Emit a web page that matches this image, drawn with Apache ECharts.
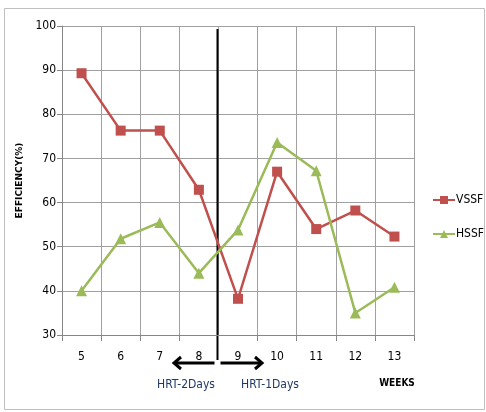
<!DOCTYPE html>
<html><head><meta charset="utf-8">
<script src="https://cdn.jsdelivr.net/npm/echarts@6/dist/echarts.min.js"></script>
<style>html,body{margin:0;padding:0;background:#fff}#c{width:486px;height:412px}</style>
</head><body><div id="c"></div>
<script>
const weeks = ['5','6','7','8','9','10','11','12','13'];
const vssf = [89.3, 76.3, 76.3, 62.9, 38.2, 67.0, 54.0, 58.2, 52.3];
const hssf = [40.0, 51.8, 55.5, 44.0, 53.8, 73.6, 67.2, 35.0, 40.8];
const yTicks = [30, 40, 50, 60, 70, 80, 90, 100];

const F = "'Liberation Sans Narrow','DejaVu Sans Condensed',sans-serif";
const chart = echarts.init(document.getElementById('c'));
const grid = {left: 62, top: 26, width: 352, height: 309};
chart.setOption({
  animation: false,
  grid: grid,
  legend: {
    orient: 'vertical', left: 427, top: 189, itemWidth: 22, itemHeight: 10, itemGap: 22,
    textStyle: {fontFamily: F, fontSize: 12, color: '#000', padding: [0,0,0,-4]},
    data: ['VSSF', 'HSSF']
  },
  xAxis: {
    type: 'category', data: weeks, boundaryGap: true,
    axisLine: {lineStyle: {color: '#868686'}},
    axisTick: {show: true, length: 6, lineStyle: {color: '#868686'}},
    splitLine: {show: true, lineStyle: {color: '#a0a0a0'}},
    axisLabel: {fontFamily: F, fontSize: 12, color: '#000', margin: 16}
  },
  yAxis: {
    type: 'value', min: yTicks[0], max: yTicks[yTicks.length-1], interval: 10,
    name: 'EFFICIENCY(%)', nameLocation: 'middle', nameGap: 34, nameRotate: 90,
    nameTextStyle: {fontFamily: 'DejaVu Sans', fontWeight: 'bold', fontSize: 9, color: '#000'},
    axisLine: {show: true, lineStyle: {color: '#868686'}},
    axisTick: {show: true, length: 5, lineStyle: {color: '#868686'}},
    splitLine: {show: true, lineStyle: {color: '#a0a0a0'}},
    axisLabel: {fontFamily: F, fontSize: 12, color: '#000', margin: 6}
  },
  series: [
    {name: 'VSSF', type: 'line', data: vssf, symbol: 'rect', symbolSize: 10,
     lineStyle: {color: '#C0504D', width: 2.5}, itemStyle: {color: '#C0504D'}},
    {name: 'HSSF', type: 'line', data: hssf, symbol: 'triangle', symbolSize: 11,
     lineStyle: {color: '#9BBB59', width: 2.5}, itemStyle: {color: '#9BBB59'}}
  ]
});
const x8 = chart.convertToPixel({xAxisIndex: 0}, '8');
const x9 = chart.convertToPixel({xAxisIndex: 0}, '9');
const xm = Math.round((x8 + x9) / 2) - 0.5;
const ay = 363;
chart.setOption({
  graphic: [
    {type: 'rect', shape: {x: 4.5, y: 8.5, width: 480, height: 401}, style: {fill: 'none', stroke: '#bfbfbf', lineWidth: 1}, silent: true},
    {type: 'line', shape: {x1: xm, y1: 29, x2: xm, y2: 360}, style: {stroke: '#000', lineWidth: 2}},
    {type: 'line', shape: {x1: xm - 3, y1: ay, x2: 174, y2: ay}, style: {stroke: '#000', lineWidth: 3}},
    {type: 'polyline', shape: {points: [[181, ay - 6], [174, ay], [181, ay + 6]]}, style: {stroke: '#000', lineWidth: 3, fill: 'none'}},
    {type: 'line', shape: {x1: xm + 3, y1: ay, x2: 262, y2: ay}, style: {stroke: '#000', lineWidth: 3}},
    {type: 'polyline', shape: {points: [[255, ay - 6], [262, ay], [255, ay + 6]]}, style: {stroke: '#000', lineWidth: 3, fill: 'none'}},
    {type: 'text', x: 186, y: 385, style: {text: 'HRT-2Days', font: "12px " + F, fill: '#1F3864', align: 'center', verticalAlign: 'middle'}},
    {type: 'text', x: 270, y: 385, style: {text: 'HRT-1Days', font: "12px " + F, fill: '#1F3864', align: 'center', verticalAlign: 'middle'}},
    {type: 'text', x: 397, y: 383, style: {text: 'WEEKS', font: "bold 10px " + F, fill: '#000', align: 'center', verticalAlign: 'middle'}}
  ]
});
</script></body></html>
